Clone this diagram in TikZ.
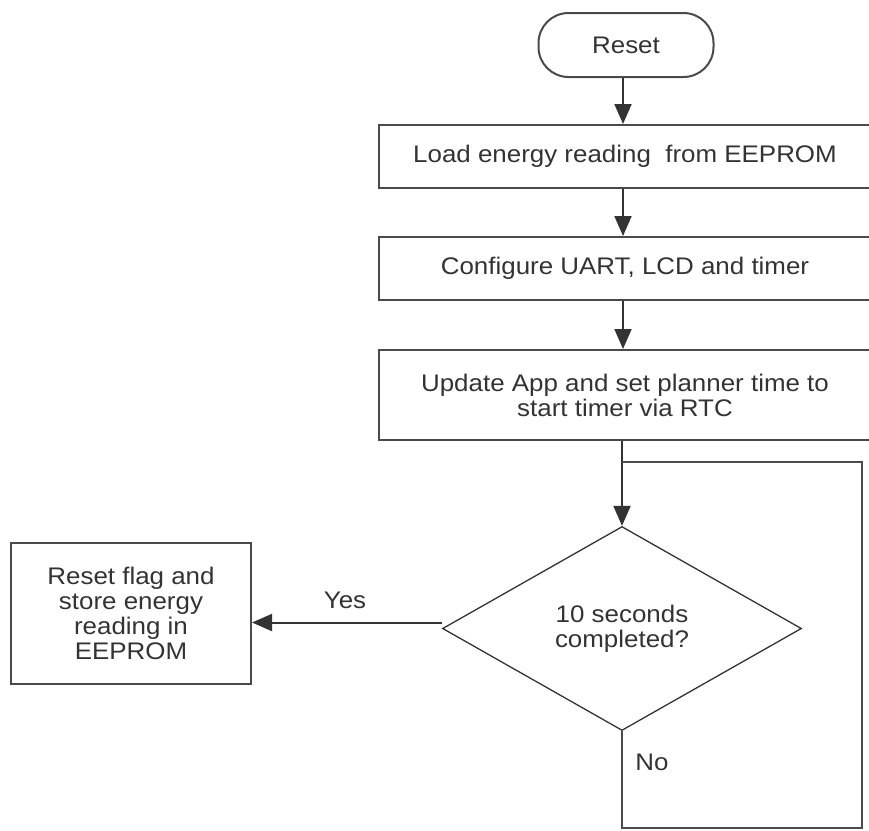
\documentclass[tikz,border=0pt]{standalone}
\usepackage{fontspec}
\setmainfont{Liberation Sans}[FakeStretch=1.08]
\usetikzlibrary{arrows.meta,shapes.geometric}
\definecolor{ink}{HTML}{333333}
\definecolor{edge}{HTML}{4A4A4A}
\begin{document}
\begin{tikzpicture}[x=1pt,y=-1pt,
  every node/.style={text=ink,font=\fontsize{24}{25}\selectfont},
  procbox/.style={draw=edge,line width=2pt,rectangle,inner sep=0pt,align=center},
  termbox/.style={draw=edge,line width=2pt,rectangle,rounded corners=30pt,inner sep=0pt,minimum width=175pt,minimum height=64pt},
  decbox/.style={draw=ink,line width=1.3pt,diamond,aspect=1.75,inner sep=0pt,minimum width=359pt,minimum height=204pt,align=center},
  flow/.style={draw=ink,line width=2pt,-{Triangle[width=17pt,length=20pt]}},
  loopline/.style={draw=edge,line width=2pt},
  lbl/.style={inner sep=0pt}]
\useasboundingbox (0,0) rectangle (869,830);
\node[termbox] (reset) at (626,45) {Reset};
\node[procbox,minimum width=492pt,minimum height=63pt] (b1) at (625,156.5) {Load energy reading\ \ from EEPROM};
\node[procbox,minimum width=492pt,minimum height=63pt] (b2) at (625,268.5) {Configure UART, LCD and timer};
\node[procbox,minimum width=492pt,minimum height=90pt] (b3) at (625,395) {Update App and set planner time to\\start timer via RTC};
\node[decbox] (dec) at (622,628.5) {10 seconds\\completed?};
\node[procbox,minimum width=240pt,minimum height=141pt] (store) at (131,613.5) {Reset flag and\\store energy\\reading in\\EEPROM};
\coordinate (lt) at (622,462);
\coordinate (rt) at (862,462);
\coordinate (rb) at (862,828);
\coordinate (lb) at (622,828);
\draw[flow] (reset.south -| 623,0) -- (b1.north -| 623,0);
\draw[flow] (b1.south -| 623,0) -- (b2.north -| 623,0);
\draw[flow] (b2.south -| 623,0) -- (b3.north -| 623,0);
\draw[flow] (b3.south -| dec.north) -- (dec.north);
\draw[loopline] (dec.south) -- (lb) -- (rb) -- (rt) -- (lt);
\draw[flow] ([yshift=6pt]dec.west) -- ([yshift=6pt]dec.west -| store.east);
\node[lbl] (yes) at (345,600) {Yes};
\node[lbl] (no) at (652,762) {No};
\end{tikzpicture}
\end{document}
